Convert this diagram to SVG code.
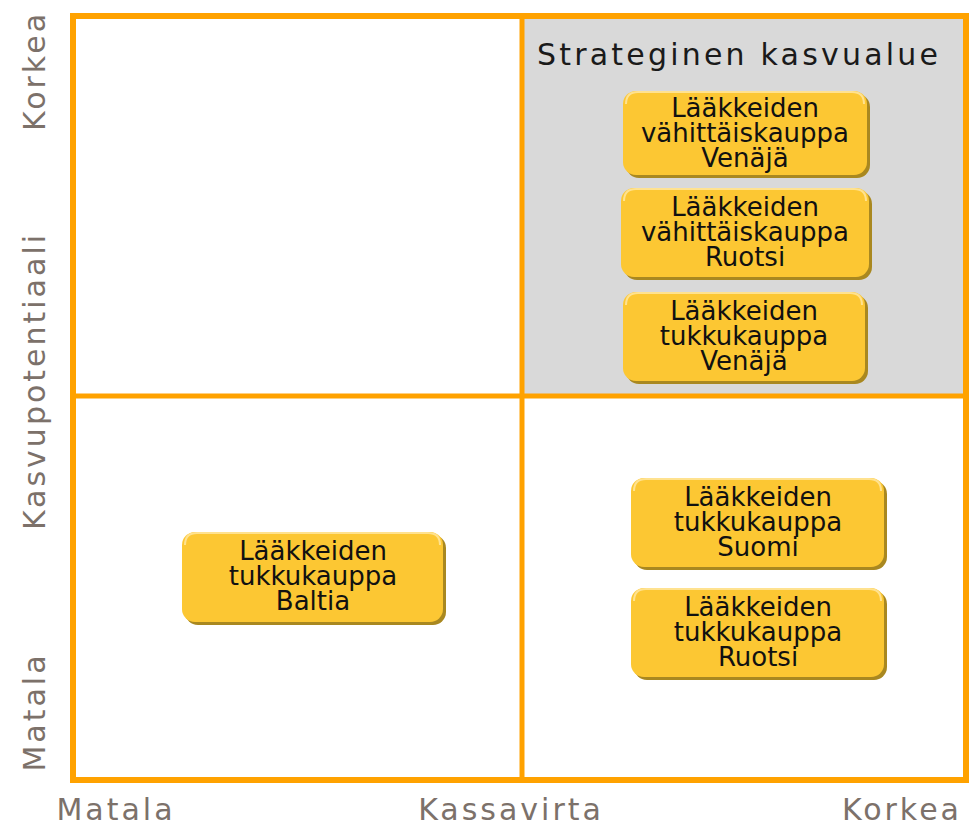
<svg xmlns="http://www.w3.org/2000/svg" width="969" height="826" viewBox="0 0 969 826">
<style>
.frame{fill:none;stroke:#FFA200;stroke-width:6}
.div{stroke:#FFA200;stroke-width:5}
.ax{font-family:"DejaVu Sans",Verdana,sans-serif;font-size:30px;fill:#7C716A;letter-spacing:3px;text-anchor:middle}
.title{font-family:"DejaVu Sans",Verdana,sans-serif;font-size:30px;fill:#1A1A1A;letter-spacing:3.2px}
.bt{font-family:"DejaVu Sans",Verdana,sans-serif;font-size:26px;fill:#111;text-anchor:middle}
.sh{fill:#A98820}
.bx{fill:#FCC733}
.hl{fill:none;stroke:#FFE28F;stroke-width:2}
</style>
<rect x="0" y="0" width="969" height="826" fill="#FFFFFF"/>
<rect id="strategic-zone" x="524" y="18" width="441" height="376" fill="#D9D9D9"/>
<g id="grid">
<rect class="frame" x="73" y="16" width="893" height="764"/>
<line class="div" x1="522" y1="16" x2="522" y2="780"/>
<line class="div" x1="73" y1="396" x2="966" y2="396"/>
</g>
<text id="zone-title" class="title" x="537" y="65">Strateginen kasvualue</text>
<g id="axis-y">
<text class="ax" transform="translate(45,71) rotate(-90)">Korkea</text>
<text class="ax" transform="translate(45,381) rotate(-90)">Kasvupotentiaali</text>
<text class="ax" transform="translate(45,712) rotate(-90)">Matala</text>
</g>
<g id="axis-x">
<text class="ax" x="116" y="820">Matala</text>
<text class="ax" x="511" y="820">Kassavirta</text>
<text class="ax" x="902" y="820">Korkea</text>
</g>
<g id="n-vahittais-venaja">
<rect class="sh" x="626" y="94" width="244" height="84" rx="13"/>
<rect class="bx" x="623" y="91" width="244" height="84" rx="13"/>
<path class="hl" d="M626 104 Q626 92 638 92 L852 92 Q864 92 864 104"/>
<text class="bt" x="745" y="117"><tspan x="745">Lääkkeiden</tspan><tspan x="745" dy="25">vähittäiskauppa</tspan><tspan x="745" dy="25">Venäjä</tspan></text>
</g>
<g id="n-vahittais-ruotsi">
<rect class="sh" x="624" y="191" width="248" height="89" rx="13"/>
<rect class="bx" x="621" y="188" width="248" height="89" rx="13"/>
<path class="hl" d="M624 201 Q624 189 636 189 L854 189 Q866 189 866 201"/>
<text class="bt" x="745" y="216"><tspan x="745">Lääkkeiden</tspan><tspan x="745" dy="25">vähittäiskauppa</tspan><tspan x="745" dy="25">Ruotsi</tspan></text>
</g>
<g id="n-tukku-venaja">
<rect class="sh" x="626" y="295" width="242" height="89" rx="13"/>
<rect class="bx" x="623" y="292" width="242" height="89" rx="13"/>
<path class="hl" d="M626 305 Q626 293 638 293 L850 293 Q862 293 862 305"/>
<text class="bt" x="744" y="320"><tspan x="744">Lääkkeiden</tspan><tspan x="744" dy="25">tukkukauppa</tspan><tspan x="744" dy="25">Venäjä</tspan></text>
</g>
<g id="n-tukku-suomi">
<rect class="sh" x="634" y="481" width="253" height="89" rx="13"/>
<rect class="bx" x="631" y="478" width="253" height="89" rx="13"/>
<path class="hl" d="M634 491 Q634 479 646 479 L869 479 Q881 479 881 491"/>
<text class="bt" x="758" y="506"><tspan x="758">Lääkkeiden</tspan><tspan x="758" dy="25">tukkukauppa</tspan><tspan x="758" dy="25">Suomi</tspan></text>
</g>
<g id="n-tukku-ruotsi">
<rect class="sh" x="634" y="591" width="253" height="89" rx="13"/>
<rect class="bx" x="631" y="588" width="253" height="89" rx="13"/>
<path class="hl" d="M634 601 Q634 589 646 589 L869 589 Q881 589 881 601"/>
<text class="bt" x="758" y="616"><tspan x="758">Lääkkeiden</tspan><tspan x="758" dy="25">tukkukauppa</tspan><tspan x="758" dy="25">Ruotsi</tspan></text>
</g>
<g id="n-tukku-baltia">
<rect class="sh" x="185" y="535" width="261" height="90" rx="13"/>
<rect class="bx" x="182" y="532" width="261" height="90" rx="13"/>
<path class="hl" d="M185 545 Q185 533 197 533 L428 533 Q440 533 440 545"/>
<text class="bt" x="313" y="560"><tspan x="313">Lääkkeiden</tspan><tspan x="313" dy="25">tukkukauppa</tspan><tspan x="313" dy="25">Baltia</tspan></text>
</g>
</svg>
